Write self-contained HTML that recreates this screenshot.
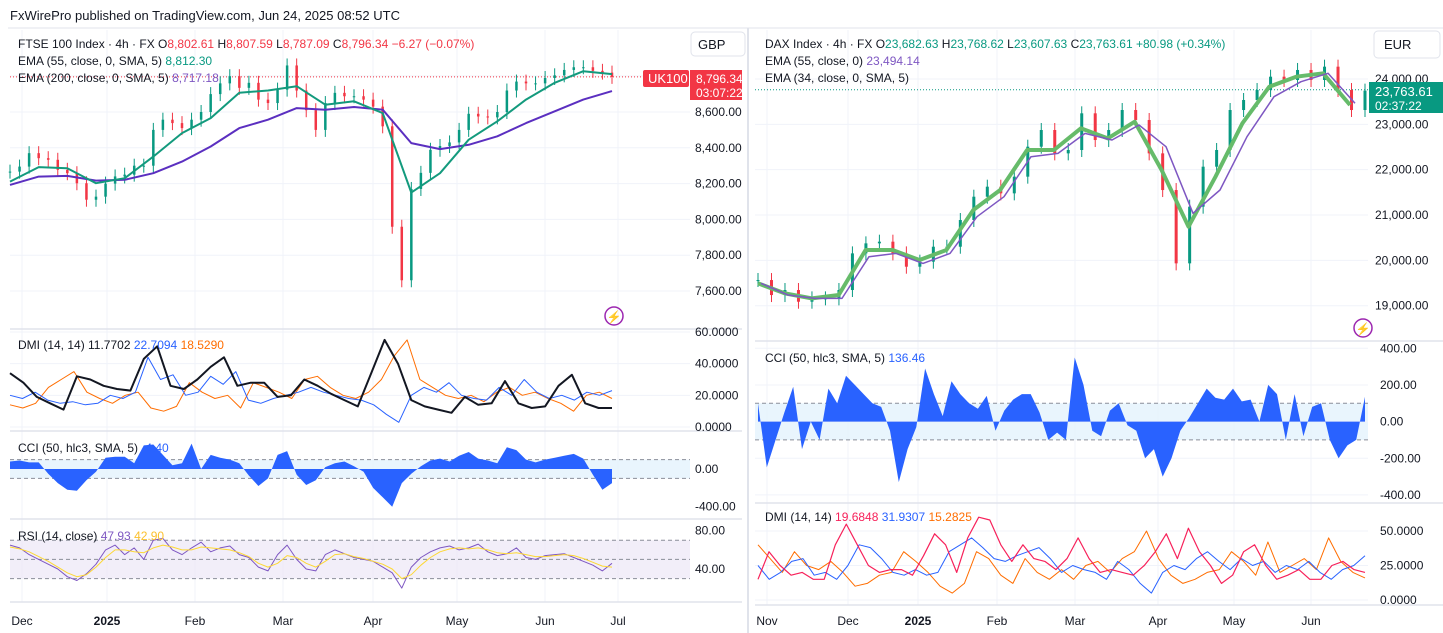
<!DOCTYPE html>
<html><head><meta charset="utf-8">
<style>
body{margin:0;background:#fff;font-family:"Liberation Sans",sans-serif;}
svg{display:block}
text{font-family:"Liberation Sans",sans-serif;}
</style></head>
<body>
<svg id="c" width="1443" height="633" viewBox="0 0 1443 633">
<rect x="0" y="0" width="1443" height="633" fill="#fff"/>
<text x="10" y="20" font-size="13" fill="#131722">FxWirePro published on TradingView.com, Jun 24, 2025 08:52 UTC</text>
<g id="grid"></g>
<g id="marks"></g>
<g id="labels" font-size="12" fill="#131722"></g>
</svg>
<script>
// ===== FTSE data =====
const ftseClose=[8267,8295,8370,8342,8333,8277,8258,8202,8110,8127,8200,8240,8250,8300,8300,8500,8557,8538,8510,8557,8600,8700,8760,8800,8735,8763,8669,8650,8725,8860,8720,8610,8500,8650,8707,8688,8688,8669,8630,8520,7959,7660,8170,8260,8389,8410,8430,8500,8590,8575,8570,8600,8720,8770,8760,8760,8790,8805,8835,8850,8850,8830,8820,8796];
const ftseEma55=[8211,8292,8286,8202,8230,8351,8482,8566,8707,8720,8744,8641,8660,8594,8150,8258,8445,8548,8669,8763,8828,8812];
const ftseEma200=[8193,8239,8243,8217,8221,8258,8323,8407,8510,8557,8622,8613,8628,8613,8426,8393,8417,8464,8538,8604,8669,8717];
const ftsePriceTicks=[8600,8400,8200,8000,7800,7600];
const ftseAdx=[34,28,19,15,11,32,30,26,24,23,43,51,26,24,30,38,44,26,28,28,19,20,30,26,21,17,13,34,55,40,17,13,11,9,19,14,15,29,15,12,13,26,33,15,12,12];
const ftsePlusDi=[20,18,22,17,15,16,14,15,20,18,22,44,30,33,20,22,32,27,35,17,15,18,20,22,25,22,20,18,17,14,8,3,20,25,22,28,20,18,17,25,20,30,22,18,20,17,22,20,23];
const ftseMinusDi=[14,12,15,25,30,35,22,18,15,20,22,12,10,13,28,22,18,20,12,28,25,22,18,30,32,25,20,18,22,30,45,55,30,25,20,18,20,16,22,25,20,22,18,15,10,20,22,18];
const ftseDmiTicks=[60,40,20,0];
const ftseCci=[80,90,70,70,-50,-150,-220,-230,-120,-30,120,130,130,60,250,260,150,40,60,270,0,150,120,100,60,-70,-180,-100,150,190,-60,-170,-120,20,60,80,30,-30,-200,-300,-400,-150,-50,30,90,110,80,140,180,110,90,60,230,200,100,70,100,120,140,160,110,-60,-220,-150];
const ftseCciTicks=[0,-400];
const ftseRsi=[65,62,55,50,45,40,32,28,35,45,60,65,55,62,50,70,72,60,55,62,68,58,62,64,55,52,42,38,55,65,50,40,38,55,60,56,52,50,48,42,36,20,42,52,58,62,64,60,62,66,58,54,56,62,52,50,54,55,56,52,48,44,38,46];
const ftseRsiMa=[63,61,58,53,48,42,36,32,34,42,52,60,60,58,57,62,65,63,60,60,63,62,61,60,57,53,46,42,46,54,52,46,42,48,55,56,53,51,48,45,40,30,34,44,52,58,61,62,61,62,60,57,56,57,55,53,53,54,55,54,51,47,43,42];
const ftseRsiTicks=[80,40];
const ftseMonths=["Dec","2025","Feb","Mar","Apr","May","Jun","Jul"];
const ftseMonthX=[22,107,195,283,373,457,545,618];
// ===== DAX data =====
const daxClose=[19566,19235,19346,19088,19162,19162,19346,20154,20375,20412,20154,19860,19971,20301,20301,20890,21404,21625,21478,21846,22507,22875,22360,22434,23243,22654,22875,23316,23096,22360,21551,19934,21184,22066,22434,23316,23537,23757,24051,23978,24199,23978,24272,23757,23316,23743];
const daxEma34=[19493,19272,19162,19235,20228,20228,20007,20228,21110,21551,22434,22434,22912,22691,23059,21993,20743,21846,23022,23831,24051,24125,23426];
const daxEma55=[19493,19235,19162,19162,20081,20154,19934,20154,20963,21404,22286,22360,22801,22654,22985,22507,21037,21551,22728,23610,23941,24125,23463];
const daxPriceTicks=[24000,23000,22000,21000,20000,19000];
const daxCci=[100,-250,-100,50,190,-150,0,-100,180,100,250,200,150,100,80,-50,-330,-150,-30,290,150,30,220,150,100,70,140,-50,60,120,150,150,50,-100,-60,-100,350,200,-50,-80,60,100,-20,-50,-200,-150,-300,-200,-50,20,100,180,130,120,180,110,120,0,200,150,-100,150,-80,80,100,-100,-200,-130,-100,136];
const daxCciTicks=[400,200,0,-200,-400];
const daxDmiRed=[15,35,25,18,20,15,15,40,55,40,25,20,22,22,18,32,48,40,20,45,60,58,40,28,40,30,28,22,30,45,30,20,22,20,18,25,35,48,30,52,35,25,12,18,35,40,25,15,18,22,15,15,25,28,22,20];
const daxDmiBlue=[25,15,20,28,30,18,20,15,25,40,38,30,20,18,22,18,20,35,40,45,38,30,28,32,35,38,30,20,25,22,20,15,28,22,12,5,20,25,22,30,35,28,22,30,25,28,20,25,22,28,20,15,22,25,32];
const daxDmiOrange=[40,30,20,35,25,22,28,20,10,12,18,20,35,28,20,10,5,12,35,30,18,12,30,20,15,22,15,25,28,20,30,35,50,30,18,12,15,20,22,35,28,18,42,20,25,30,22,45,28,20,16];
const daxDmiTicks=[50,25,0];
const daxMonths=["Nov","Dec","2025","Feb","Mar","Apr","May","Jun"];
const daxMonthX=[767,848,918,997,1075,1158,1234,1311];

const NS="http://www.w3.org/2000/svg";
const G=document.getElementById('grid'),M=document.getElementById('marks'),L=document.getElementById('labels');
function mk(parent,tag,a){const e=document.createElementNS(NS,tag);for(const k in a)e.setAttribute(k,a[k]);parent.appendChild(e);return e;}
function lin(d0,d1,r0,r1){return v=>r0+(v-d0)*(r1-r0)/(d1-d0);}
function idx(n,x0,x1){return i=>x0+i*(x1-x0)/(n-1);}
function txt(x,y,s,col,anchor,weight){const t=mk(L,'text',{x:x,y:y,fill:col||'#131722','text-anchor':anchor||'start','font-weight':weight||'normal'});t.textContent=s;return t;}
function fmt(v,d){return v.toLocaleString('en-US',{minimumFractionDigits:d,maximumFractionDigits:d});}
function drawLine(arr,x0,x1,ys,col,w,name){const xf=idx(arr.length,x0,x1);let p=arr.map((v,i)=>xf(i).toFixed(1)+','+ys(v).toFixed(1)).join(' ');const e=mk(M,'polyline',{points:p,fill:'none',stroke:col,'stroke-width':w,'stroke-linejoin':'round'});

return e;}
function hgrid(y,x0,x1){mk(G,'line',{x1:x0,x2:x1,y1:y,y2:y,stroke:'#f0f3fa','stroke-width':1});}
function dashed(y,x0,x1){mk(G,'line',{x1:x0,x2:x1,y1:y,y2:y,stroke:'#8a8e99','stroke-width':1,'stroke-dasharray':'4,3'});}
function sep(y,x0,x1){mk(G,'line',{x1:x0,x2:x1,y1:y,y2:y,stroke:'#e0e3eb','stroke-width':1.5});}
function candles(arr,x0,x1,ys,bw,name){const xf=idx(arr.length,x0,x1);arr.forEach((c,i)=>{const o=i?arr[i-1]:c;const up=c>=o;const col=up?'#089981':'#f23645';const y1=ys(Math.max(o,c)),y2=ys(Math.min(o,c));const x=xf(i);
const w=mk(M,'line',{x1:x,x2:x,y1:y1-7,y2:y2+7,stroke:col,'stroke-width':1});


const r=mk(M,'rect',{x:x-bw/2,y:y1,width:bw,height:Math.max(1,y2-y1),fill:col});

});}
function area(arr,x0,x1,ys,name){const xf=idx(arr.length,x0,x1);const y0=ys(0);let p=x0+','+y0+' '+arr.map((v,i)=>xf(i).toFixed(1)+','+ys(v).toFixed(1)).join(' ')+' '+x1+','+y0;
const e=mk(M,'polygon',{points:p,fill:'#2962ff'});

}

// ===== LEFT (FTSE) =====
const LX0=10,LX1=690,cx0=10,cx1=612;
ftseMonthX.forEach(x=>mk(G,'line',{x1:x,x2:x,y1:30,y2:602,stroke:'#f0f3fa'}));
const yF=lin(8600,7600,112,291);
ftsePriceTicks.forEach(v=>{hgrid(yF(v),LX0,LX1);txt(695,yF(v)+4,fmt(v,2));});
hgrid(76,LX0,LX1);
mk(G,'line',{x1:LX0,x2:645,y1:yF(8796.34),y2:yF(8796.34),stroke:'#f23645','stroke-dasharray':'1,2'});
candles(ftseClose,cx0,cx1,yF,2.5,'ftse');
drawLine(ftseEma200,cx0,cx1,yF,'#5b2fc0',2,'ftse-ema200-line');
drawLine(ftseEma55,cx0,cx1,yF,'#139a7d',2,'ftse-ema55-line');
sep(329,LX0,742);
const yD=lin(60,0,332,427);
ftseDmiTicks.forEach(v=>{hgrid(yD(v),LX0,LX1);txt(695,yD(v)+4,fmt(v,4));});
drawLine(ftseMinusDi,cx0,cx1,yD,'#ff6d00',1,'ftse-minus-di-line');
drawLine(ftsePlusDi,cx0,cx1,yD,'#2962ff',1,'ftse-plus-di-line');
drawLine(ftseAdx,cx0,cx1,yD,'#131722',2,'ftse-adx-line');
sep(431,LX0,742);
const yC=lin(0,-400,469,506.7);
mk(G,'rect',{x:LX0,y:yC(100),width:LX1-LX0,height:yC(-100)-yC(100),fill:'#e3f2fd',opacity:0.8});
dashed(yC(100),LX0,LX1);dashed(yC(-100),LX0,LX1);
ftseCciTicks.forEach(v=>txt(695,yC(v)+4,fmt(v,2)));
area(ftseCci,cx0,cx1,yC,'ftse-cci-area');
sep(519,LX0,742);
const yR=lin(80,40,530.7,569);
mk(G,'rect',{x:LX0,y:yR(70),width:LX1-LX0,height:yR(30)-yR(70),fill:'#ede7f6',opacity:0.7});
dashed(yR(70),LX0,LX1);dashed(yR(50),LX0,LX1);dashed(yR(30),LX0,LX1);
ftseRsiTicks.forEach(v=>txt(695,yR(v)+4,fmt(v,2)));
drawLine(ftseRsi,cx0,cx1,yR,'#7e57c2',1,'ftse-rsi-line');
drawLine(ftseRsiMa,cx0,cx1,yR,'#fdd835',1,'ftse-rsi-ma-line');
sep(602,LX0,742);
ftseMonths.forEach((m,i)=>txt(ftseMonthX[i],625,m,'#131722','middle',m==='2025'?'bold':'normal'));

// ===== RIGHT (DAX) =====
const RX0=755,RX1=1368,dx0=758,dx1=1365,ex1=1350;
daxMonthX.forEach(x=>mk(G,'line',{x1:x,x2:x,y1:30,y2:605,stroke:'#f0f3fa'}));
const yX=lin(24000,19000,79,305.7);
daxPriceTicks.forEach(v=>{hgrid(yX(v),RX0,RX1);txt(1375,yX(v)+4,fmt(v,2));});
mk(G,'line',{x1:RX0,x2:RX1,y1:yX(23763.61),y2:yX(23763.61),stroke:'#089981','stroke-dasharray':'1,2'});
candles(daxClose,dx0,dx1,yX,3,'dax');
drawLine(daxEma34,dx0,ex1,yX,'#66bb6a',4,'dax-ema34-line');
drawLine(daxEma55,dx0+3,ex1+5,yX,'#7e57c2',1.5,'dax-ema55-line');
sep(341,RX0,1443);
const yCC=lin(400,-400,348.3,494.9);
mk(G,'rect',{x:RX0,y:yCC(100),width:RX1-RX0,height:yCC(-100)-yCC(100),fill:'#e3f2fd',opacity:0.8});
dashed(yCC(100),RX0,RX1);dashed(yCC(-100),RX0,RX1);
daxCciTicks.forEach(v=>{hgrid(yCC(v),RX0,RX1);txt(1380,yCC(v)+4,fmt(v,2));});
area(daxCci,dx0,dx1,yCC,'dax-cci-area');
sep(503,RX0,1443);
const yDD=lin(50,0,531,600);
daxDmiTicks.forEach(v=>{hgrid(yDD(v),RX0,RX1);txt(1380,yDD(v)+4,fmt(v,4));});
drawLine(daxDmiOrange,dx0,dx1,yDD,'#ff6d00',1,'dax-minus-di-line');
drawLine(daxDmiBlue,dx0,dx1,yDD,'#2962ff',1,'dax-plus-di-line');
drawLine(daxDmiRed,dx0,dx1,yDD,'#f7215a',1.2,'dax-adx-line');
sep(605,RX0,1443);
daxMonths.forEach((m,i)=>txt(daxMonthX[i],625,m,'#131722','middle',m==='2025'?'bold':'normal'));
</script>
<svg width="1443" height="633" style="position:absolute;left:0;top:0" font-size="12">
<line x1="748" y1="28" x2="748" y2="633" stroke="#e0e3eb" stroke-width="2"/>
<line x1="8" y1="28" x2="1443" y2="28" stroke="#e0e3eb"/>
<g>
<text x="18" y="48" fill="#131722">FTSE 100 Index · 4h · FX  O<tspan fill="#f23645">8,802.61</tspan>  H<tspan fill="#f23645">8,807.59</tspan>  L<tspan fill="#f23645">8,787.09</tspan>  C<tspan fill="#f23645">8,796.34  −6.27 (−0.07%)</tspan></text>
<text x="18" y="65" fill="#131722">EMA (55, close, 0, SMA, 5)  <tspan fill="#089981">8,812.30</tspan></text>
<text x="18" y="82" fill="#131722">EMA (200, close, 0, SMA, 5)  <tspan fill="#7e57c2">8,717.18</tspan></text>
<text x="18" y="349" fill="#131722">DMI (14, 14)  11.7702  <tspan fill="#2962ff">22.7094</tspan>  <tspan fill="#ff6d00">18.5290</tspan></text>
<text x="18" y="452" fill="#131722">CCI (50, hlc3, SMA, 5)  <tspan fill="#2962ff">-4.40</tspan></text>
<text x="18" y="540" fill="#131722">RSI (14, close)  <tspan fill="#7e57c2">47.93</tspan>  <tspan fill="#fbc02d">42.90</tspan></text>
</g>
<g>
<text x="765" y="48" fill="#131722">DAX Index · 4h · FX  O<tspan fill="#089981">23,682.63</tspan>  H<tspan fill="#089981">23,768.62</tspan>  L<tspan fill="#089981">23,607.63</tspan>  C<tspan fill="#089981">23,763.61  +80.98 (+0.34%)</tspan></text>
<text x="765" y="65" fill="#131722">EMA (55, close, 0)  <tspan fill="#7e57c2">23,494.14</tspan></text>
<text x="765" y="82" fill="#131722">EMA (34, close, 0, SMA, 5)</text>
<text x="765" y="362" fill="#131722">CCI (50, hlc3, SMA, 5)  <tspan fill="#2962ff">136.46</tspan></text>
<text x="765" y="521" fill="#131722">DMI (14, 14)  <tspan fill="#f7215a">19.6848</tspan>  <tspan fill="#2962ff">31.9307</tspan>  <tspan fill="#ff6d00">15.2825</tspan></text>
</g>
<g><rect x="691" y="32" width="54" height="24" rx="4" fill="#fff" stroke="#e0e3eb"/><text x="698" y="49" font-size="13" fill="#131722">GBP</text></g>
<g><rect x="1374" y="31" width="66" height="27" rx="4" fill="#fff" stroke="#e0e3eb"/><text x="1384" y="49" font-size="13" fill="#131722">EUR</text></g>
<g><rect x="643" y="70" width="46" height="17" rx="2" fill="#f23645"/><text x="648" y="83" font-size="13" fill="#fff">UK100</text>
<rect x="690" y="70" width="52" height="30" fill="#f23645"/><text x="696" y="83" font-size="12" fill="#fff">8,796.34</text><text x="696" y="97" font-size="12" fill="#fff">03:07:22</text></g>
<g><rect x="1369" y="82" width="74" height="31" fill="#089981"/><text x="1375" y="96" font-size="13" fill="#fff">23,763.61</text><text x="1375" y="110" font-size="12" fill="#fff">02:37:22</text></g>
<g><circle cx="614" cy="316" r="9" fill="none" stroke="#9c27b0" stroke-width="1.5"/><text x="614" y="321" font-size="12" fill="#9c27b0" text-anchor="middle">⚡</text></g>
<g><circle cx="1363" cy="328" r="9" fill="none" stroke="#9c27b0" stroke-width="1.5"/><text x="1363" y="333" font-size="12" fill="#9c27b0" text-anchor="middle">⚡</text></g>
</svg>
</body></html>
